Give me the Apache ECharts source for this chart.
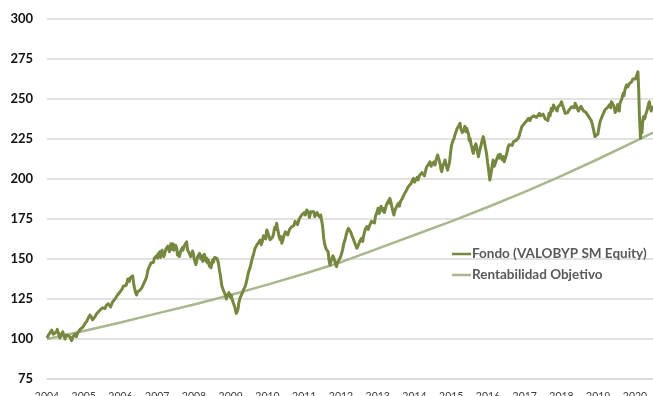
<!DOCTYPE html>
<html>
<head>
<meta charset="utf-8">
<script src="https://cdn.jsdelivr.net/npm/echarts@6/dist/echarts.min.js"></script>
<style>
  html, body { margin: 0; padding: 0; background: #ffffff; }
  #chart { width: 653px; height: 396px; }
</style>
</head>
<body>
<div id="chart"></div>
<script>
// Fund index (base 100 at start of 2004): [decimal year, value]
const fundPoints = [
  [2004.00, 100.5], [2004.04, 102.5], [2004.08, 101.5], [2004.13, 105.5], [2004.17, 103.0],
  [2004.22, 102.0], [2004.26, 104.5], [2004.28, 106.0], [2004.32, 103.0], [2004.35, 100.5],
  [2004.39, 103.0], [2004.43, 104.5], [2004.46, 102.0], [2004.49, 100.0], [2004.53, 102.5],
  [2004.58, 103.5], [2004.62, 101.5], [2004.67, 99.0], [2004.70, 101.0], [2004.72, 101.5],
  [2004.76, 103.0], [2004.80, 101.5], [2004.84, 104.0], [2004.90, 106.0], [2004.95, 105.0],
  [2004.98, 107.5], [2005.01, 106.5], [2005.03, 109.5], [2005.06, 108.5], [2005.08, 111.0],
  [2005.10, 110.0], [2005.12, 113.0], [2005.15, 112.0], [2005.17, 115.0], [2005.19, 114.5],
  [2005.21, 113.5], [2005.24, 112.0], [2005.26, 111.5], [2005.29, 113.0], [2005.31, 114.0],
  [2005.34, 115.5], [2005.36, 116.0], [2005.38, 115.0], [2005.40, 117.0], [2005.43, 118.0],
  [2005.46, 118.5], [2005.49, 117.5], [2005.52, 119.5], [2005.55, 120.0], [2005.58, 119.0],
  [2005.61, 121.0], [2005.64, 120.5], [2005.67, 122.0], [2005.70, 121.5], [2005.73, 120.0],
  [2005.76, 121.0], [2005.78, 123.0], [2005.80, 123.5], [2005.83, 122.5], [2005.85, 125.0],
  [2005.88, 126.0], [2005.92, 127.5], [2005.95, 127.0], [2005.99, 129.5], [2006.02, 130.0],
  [2006.05, 131.5], [2006.08, 133.0], [2006.12, 134.0], [2006.15, 133.5], [2006.18, 135.5],
  [2006.20, 137.5], [2006.22, 137.0], [2006.24, 136.0], [2006.26, 138.0], [2006.28, 139.0],
  [2006.30, 137.0], [2006.33, 139.5], [2006.35, 136.0], [2006.37, 133.0], [2006.41, 129.0],
  [2006.44, 127.5], [2006.46, 129.5], [2006.48, 130.0], [2006.50, 128.5], [2006.53, 130.5],
  [2006.56, 131.5], [2006.58, 132.0], [2006.60, 131.0], [2006.62, 134.0], [2006.65, 133.5],
  [2006.67, 135.0], [2006.70, 138.0], [2006.72, 140.0], [2006.74, 142.5], [2006.76, 144.0],
  [2006.78, 143.0], [2006.80, 146.0], [2006.83, 147.5], [2006.86, 148.5], [2006.88, 146.5],
  [2006.90, 148.0], [2006.92, 150.5], [2006.94, 149.5], [2006.96, 151.0], [2006.98, 152.0],
  [2007.01, 150.5], [2007.03, 153.5], [2007.05, 151.5], [2007.07, 154.5], [2007.09, 151.0],
  [2007.10, 152.0], [2007.13, 155.5], [2007.15, 154.5], [2007.18, 151.5], [2007.21, 152.5],
  [2007.24, 156.5], [2007.26, 155.5], [2007.29, 158.0], [2007.31, 157.0], [2007.33, 154.5],
  [2007.35, 156.0], [2007.37, 159.5], [2007.39, 158.8], [2007.41, 156.0], [2007.43, 159.5],
  [2007.45, 155.5], [2007.47, 157.0], [2007.50, 158.5], [2007.53, 156.7], [2007.55, 152.5],
  [2007.58, 154.0], [2007.60, 151.5], [2007.62, 150.5], [2007.64, 155.0], [2007.66, 154.0],
  [2007.68, 157.0], [2007.70, 155.5], [2007.73, 158.0], [2007.75, 157.0], [2007.78, 159.0],
  [2007.80, 160.8], [2007.82, 156.0], [2007.84, 157.0], [2007.86, 154.0], [2007.89, 155.0],
  [2007.91, 151.5], [2007.94, 152.5], [2007.96, 155.0], [2007.98, 153.5], [2008.01, 149.5],
  [2008.03, 150.0], [2008.05, 146.5], [2008.07, 148.3], [2008.10, 151.5], [2008.12, 150.5],
  [2008.15, 153.5], [2008.17, 152.5], [2008.19, 150.0], [2008.21, 152.0], [2008.24, 148.5],
  [2008.26, 150.0], [2008.28, 153.0], [2008.30, 152.0], [2008.33, 148.5], [2008.35, 150.5],
  [2008.37, 147.5], [2008.39, 149.4], [2008.42, 145.5], [2008.44, 147.5], [2008.46, 144.5],
  [2008.48, 146.3], [2008.51, 149.5], [2008.53, 148.0], [2008.56, 151.0], [2008.58, 150.0],
  [2008.60, 152.0], [2008.62, 150.4], [2008.64, 151.5], [2008.66, 148.0], [2008.68, 145.0],
  [2008.70, 142.0], [2008.72, 139.5], [2008.74, 136.0], [2008.76, 133.0], [2008.78, 132.0],
  [2008.80, 130.5], [2008.82, 129.6], [2008.84, 131.0], [2008.86, 127.0], [2008.88, 125.0],
  [2008.89, 124.4], [2008.91, 127.5], [2008.93, 126.5], [2008.95, 129.0], [2008.97, 128.0],
  [2008.99, 126.0], [2009.01, 127.5], [2009.03, 125.5], [2009.05, 124.0], [2009.07, 122.5],
  [2009.09, 121.5], [2009.11, 120.0], [2009.13, 118.0], [2009.15, 116.0], [2009.16, 115.0],
  [2009.18, 117.5], [2009.20, 119.0], [2009.22, 122.5], [2009.25, 125.4], [2009.28, 126.5],
  [2009.30, 128.0], [2009.33, 129.5], [2009.35, 131.0], [2009.37, 130.5], [2009.39, 132.7],
  [2009.42, 135.0], [2009.45, 138.0], [2009.48, 141.5], [2009.52, 144.2], [2009.55, 147.0],
  [2009.58, 150.0], [2009.62, 153.0], [2009.66, 156.7], [2009.69, 157.5], [2009.72, 159.0],
  [2009.76, 160.5], [2009.80, 161.9], [2009.83, 159.0], [2009.86, 161.0], [2009.89, 164.5],
  [2009.92, 165.0], [2009.95, 162.5], [2009.98, 168.1], [2010.01, 166.5], [2010.04, 164.0],
  [2010.07, 162.0], [2010.11, 160.8], [2010.13, 163.5], [2010.16, 165.0], [2010.18, 168.0],
  [2010.20, 170.0], [2010.23, 168.5], [2010.25, 172.3], [2010.27, 169.5], [2010.30, 166.0],
  [2010.32, 163.5], [2010.35, 162.0], [2010.37, 164.0], [2010.39, 159.8], [2010.42, 162.0],
  [2010.44, 164.0], [2010.47, 163.0], [2010.49, 167.0], [2010.52, 168.1], [2010.55, 165.0],
  [2010.58, 166.0], [2010.60, 168.5], [2010.62, 169.0], [2010.64, 167.5], [2010.66, 170.2],
  [2010.69, 169.0], [2010.72, 171.0], [2010.75, 173.5], [2010.79, 173.3], [2010.82, 171.5],
  [2010.86, 175.0], [2010.89, 174.0], [2010.93, 177.5], [2010.96, 176.5], [2011.00, 179.0],
  [2011.03, 177.5], [2011.07, 180.6], [2011.10, 180.5], [2011.12, 179.0], [2011.14, 176.0],
  [2011.16, 177.0], [2011.18, 179.5], [2011.20, 178.5], [2011.23, 180.0], [2011.26, 179.5],
  [2011.29, 176.5], [2011.32, 177.0], [2011.35, 179.0], [2011.38, 177.5], [2011.40, 178.5],
  [2011.43, 176.0], [2011.45, 177.5], [2011.47, 174.4], [2011.49, 172.0], [2011.51, 168.0],
  [2011.53, 163.0], [2011.56, 158.8], [2011.58, 157.5], [2011.60, 156.0], [2011.62, 157.0],
  [2011.65, 154.6], [2011.67, 150.0], [2011.70, 146.3], [2011.72, 148.0], [2011.75, 149.0],
  [2011.78, 152.0], [2011.81, 151.4], [2011.83, 149.0], [2011.85, 147.0], [2011.88, 145.2],
  [2011.90, 147.5], [2011.93, 148.0], [2011.96, 150.0], [2011.99, 151.5], [2012.02, 153.6],
  [2012.05, 156.5], [2012.08, 160.0], [2012.11, 162.0], [2012.14, 165.0], [2012.17, 167.5],
  [2012.20, 169.2], [2012.23, 168.0], [2012.26, 167.0], [2012.30, 164.5], [2012.33, 162.9],
  [2012.36, 161.0], [2012.38, 160.0], [2012.41, 158.0], [2012.43, 156.7], [2012.46, 158.0],
  [2012.49, 159.0], [2012.52, 161.5], [2012.56, 162.9], [2012.59, 161.0], [2012.62, 165.0],
  [2012.66, 168.5], [2012.70, 170.2], [2012.74, 168.5], [2012.78, 171.0], [2012.83, 173.5],
  [2012.88, 174.4], [2012.91, 172.5], [2012.94, 177.0], [2012.97, 178.5], [2013.01, 181.7],
  [2013.04, 178.5], [2013.06, 180.0], [2013.09, 183.0], [2013.11, 182.7], [2013.14, 180.0],
  [2013.16, 181.5], [2013.18, 179.0], [2013.20, 180.6], [2013.23, 183.5], [2013.26, 184.0],
  [2013.29, 186.5], [2013.31, 185.0], [2013.33, 187.9], [2013.36, 185.5], [2013.38, 183.0],
  [2013.41, 180.0], [2013.44, 177.5], [2013.47, 180.5], [2013.50, 181.0], [2013.53, 183.5],
  [2013.56, 184.8], [2013.59, 183.0], [2013.62, 186.0], [2013.66, 187.5], [2013.69, 188.9],
  [2013.72, 190.5], [2013.76, 192.0], [2013.80, 193.0], [2013.83, 195.2], [2013.86, 194.0],
  [2013.90, 197.0], [2013.93, 198.5], [2013.97, 200.4], [2014.00, 198.0], [2014.03, 199.0],
  [2014.07, 201.0], [2014.10, 199.4], [2014.13, 202.0], [2014.17, 201.0], [2014.20, 204.0],
  [2014.24, 203.5], [2014.27, 202.0], [2014.30, 205.0], [2014.33, 207.5], [2014.36, 207.0],
  [2014.39, 209.5], [2014.42, 210.8], [2014.45, 208.0], [2014.49, 209.0], [2014.52, 210.5],
  [2014.56, 208.8], [2014.58, 211.5], [2014.61, 211.0], [2014.63, 215.0], [2014.65, 213.9],
  [2014.68, 211.0], [2014.70, 209.0], [2014.72, 206.0], [2014.74, 204.6], [2014.77, 208.0],
  [2014.79, 207.0], [2014.81, 210.5], [2014.83, 211.9], [2014.86, 209.0], [2014.88, 208.0],
  [2014.90, 205.5], [2014.92, 206.7], [2014.95, 210.0], [2014.97, 214.0], [2014.99, 218.0],
  [2015.01, 221.3], [2015.04, 223.5], [2015.07, 225.0], [2015.10, 227.5], [2015.13, 228.5],
  [2015.16, 231.5], [2015.18, 231.0], [2015.21, 233.5], [2015.24, 234.8], [2015.26, 231.5],
  [2015.28, 231.0], [2015.30, 229.0], [2015.33, 228.5], [2015.35, 231.0], [2015.37, 233.0],
  [2015.40, 229.5], [2015.42, 231.7], [2015.45, 229.5], [2015.47, 228.0], [2015.49, 224.0],
  [2015.51, 225.4], [2015.54, 221.5], [2015.56, 220.0], [2015.58, 217.5], [2015.60, 216.0],
  [2015.63, 219.5], [2015.65, 219.0], [2015.67, 222.0], [2015.69, 220.2], [2015.72, 216.0],
  [2015.74, 213.9], [2015.77, 217.5], [2015.80, 220.0], [2015.84, 224.0], [2015.87, 226.5],
  [2015.90, 223.5], [2015.92, 221.0], [2015.94, 218.5], [2015.96, 216.0], [2015.99, 210.0],
  [2016.01, 207.0], [2016.03, 203.0], [2016.05, 199.4], [2016.08, 203.0], [2016.10, 206.0],
  [2016.12, 209.5], [2016.14, 211.9], [2016.17, 208.0], [2016.20, 209.0], [2016.24, 212.5],
  [2016.28, 215.0], [2016.31, 213.0], [2016.33, 215.5], [2016.36, 214.0], [2016.39, 212.0],
  [2016.42, 214.0], [2016.44, 210.8], [2016.47, 213.0], [2016.50, 215.0], [2016.53, 218.0],
  [2016.55, 220.2], [2016.58, 221.5], [2016.62, 222.0], [2016.66, 221.0], [2016.69, 223.3],
  [2016.72, 222.5], [2016.76, 224.0], [2016.79, 223.0], [2016.82, 225.4], [2016.85, 227.0],
  [2016.87, 229.0], [2016.90, 231.0], [2016.92, 232.7], [2016.96, 233.5], [2017.00, 235.0],
  [2017.03, 234.5], [2017.06, 236.5], [2017.10, 237.9], [2017.14, 236.5], [2017.18, 238.5],
  [2017.22, 237.5], [2017.25, 239.5], [2017.28, 240.0], [2017.32, 238.5], [2017.36, 239.0],
  [2017.40, 241.0], [2017.43, 239.5], [2017.46, 240.0], [2017.50, 240.5], [2017.53, 239.0],
  [2017.56, 237.5], [2017.60, 237.9], [2017.63, 236.5], [2017.66, 241.0], [2017.69, 239.5],
  [2017.72, 244.0], [2017.75, 242.5], [2017.78, 246.3], [2017.81, 245.0], [2017.85, 244.0],
  [2017.88, 242.5], [2017.91, 245.2], [2017.94, 244.0], [2017.97, 246.5], [2018.00, 248.3],
  [2018.03, 246.0], [2018.06, 244.0], [2018.08, 242.5], [2018.10, 241.0], [2018.12, 242.0],
  [2018.14, 240.0], [2018.17, 241.5], [2018.20, 243.0], [2018.24, 242.0], [2018.28, 245.2],
  [2018.31, 244.0], [2018.33, 246.0], [2018.35, 244.5], [2018.37, 247.3], [2018.40, 246.0],
  [2018.43, 245.0], [2018.46, 242.5], [2018.50, 243.1], [2018.53, 245.5], [2018.57, 244.5],
  [2018.60, 242.5], [2018.64, 243.1], [2018.67, 241.5], [2018.70, 241.0], [2018.74, 239.0],
  [2018.78, 237.9], [2018.81, 236.5], [2018.84, 234.0], [2018.87, 231.0], [2018.91, 226.5],
  [2018.94, 227.5], [2018.96, 225.4], [2018.99, 228.0], [2019.01, 231.0], [2019.03, 233.5],
  [2019.05, 235.8], [2019.08, 237.0], [2019.12, 240.0], [2019.15, 241.5], [2019.18, 243.1],
  [2019.22, 242.0], [2019.27, 245.2], [2019.31, 246.5], [2019.34, 244.5], [2019.36, 248.3],
  [2019.39, 247.0], [2019.43, 245.5], [2019.46, 241.5], [2019.50, 243.1], [2019.53, 246.5],
  [2019.55, 245.0], [2019.57, 242.5], [2019.59, 247.3], [2019.62, 248.0], [2019.64, 250.0],
  [2019.66, 252.0], [2019.68, 253.5], [2019.70, 252.0], [2019.73, 256.0], [2019.75, 257.5],
  [2019.77, 258.8], [2019.80, 257.5], [2019.84, 259.5], [2019.87, 259.0], [2019.91, 260.8],
  [2019.94, 262.5], [2019.98, 263.0], [2020.01, 262.5], [2020.05, 265.0], [2020.08, 267.0],
  [2020.10, 256.0], [2020.12, 240.0], [2020.15, 225.4], [2020.17, 232.0], [2020.19, 229.0],
  [2020.21, 236.0], [2020.23, 238.9], [2020.26, 237.5], [2020.30, 241.0], [2020.33, 243.0],
  [2020.35, 245.0], [2020.37, 247.0], [2020.39, 248.3], [2020.41, 245.0], [2020.42, 244.0],
  [2020.44, 242.5], [2020.45, 243.0], [2020.47, 245.0], [2020.49, 244.4]
];

// Target return path, yearly checkpoints
const targetYears  = [2004, 2005, 2006, 2007, 2008, 2009, 2010, 2011, 2012, 2013, 2014, 2015, 2016, 2017, 2018, 2019, 2020, 2020.49];
const targetValues = [100, 105.0, 110.3, 116.0, 121.6, 127.5, 134.0, 140.8, 148.0, 156.5, 165.0, 173.5, 182.5, 192.0, 202.0, 212.5, 223.5, 229.0];

const seriesNames = ['Fondo (VALOBYP SM Equity)', 'Rentabilidad Objetivo'];
const yTicks = { min: 75, max: 300, step: 25 };
const xRange = { min: 2004, max: 2020.49, step: 1 };

const chart = echarts.init(document.getElementById('chart'), null, { renderer: 'canvas' });

chart.setOption({
  animation: false,
  backgroundColor: '#ffffff',
  grid: { left: 47, right: 0, top: 19, bottom: 17, containLabel: false, outerBoundsMode: 'none' },
  legend: {
    orient: 'vertical',
    left: 447,
    top: 242,
    icon: 'rect',
    itemWidth: 19,
    itemHeight: 2.5,
    itemGap: 7,
    textStyle: { fontFamily: 'Lato', fontWeight: 'bold', fontSize: 13.5, color: '#595959', padding: [0, 0, 0, -4] },
    data: seriesNames
  },
  xAxis: {
    type: 'value',
    min: xRange.min,
    max: xRange.max,
    interval: xRange.step,
    axisLine: { show: true, lineStyle: { color: '#d9d9d9', width: 1.5 } },
    axisTick: { show: false },
    splitLine: { show: false },
    axisLabel: {
      margin: 12,
      fontFamily: 'Lato',
      fontSize: 10.5,
      color: '#404040',
      formatter: v => (Math.abs(v - Math.round(v)) < 1e-6 ? String(Math.round(v)) : '')
    }
  },
  yAxis: {
    type: 'value',
    min: yTicks.min,
    max: yTicks.max,
    interval: yTicks.step,
    axisLine: { show: false },
    axisTick: { show: false },
    splitLine: { show: true, lineStyle: { color: '#d9d9d9', width: 1.5 } },
    axisLabel: {
      margin: 14,
      fontFamily: 'Lato',
      fontWeight: 'bold',
      fontSize: 13,
      color: '#111111'
    }
  },
  series: [
    {
      name: seriesNames[1],
      type: 'line',
      symbol: 'none',
      data: targetYears.map((x, i) => [x, targetValues[i]]),
      lineStyle: { color: '#a8b78c', width: 2.5 },
      itemStyle: { color: '#a8b78c' },
      z: 2
    },
    {
      name: seriesNames[0],
      type: 'line',
      symbol: 'none',
      data: fundPoints,
      lineStyle: { color: '#76873f', width: 3, join: 'round' },
      itemStyle: { color: '#76873f' },
      z: 3
    }
  ]
});
</script>
</body>
</html>
